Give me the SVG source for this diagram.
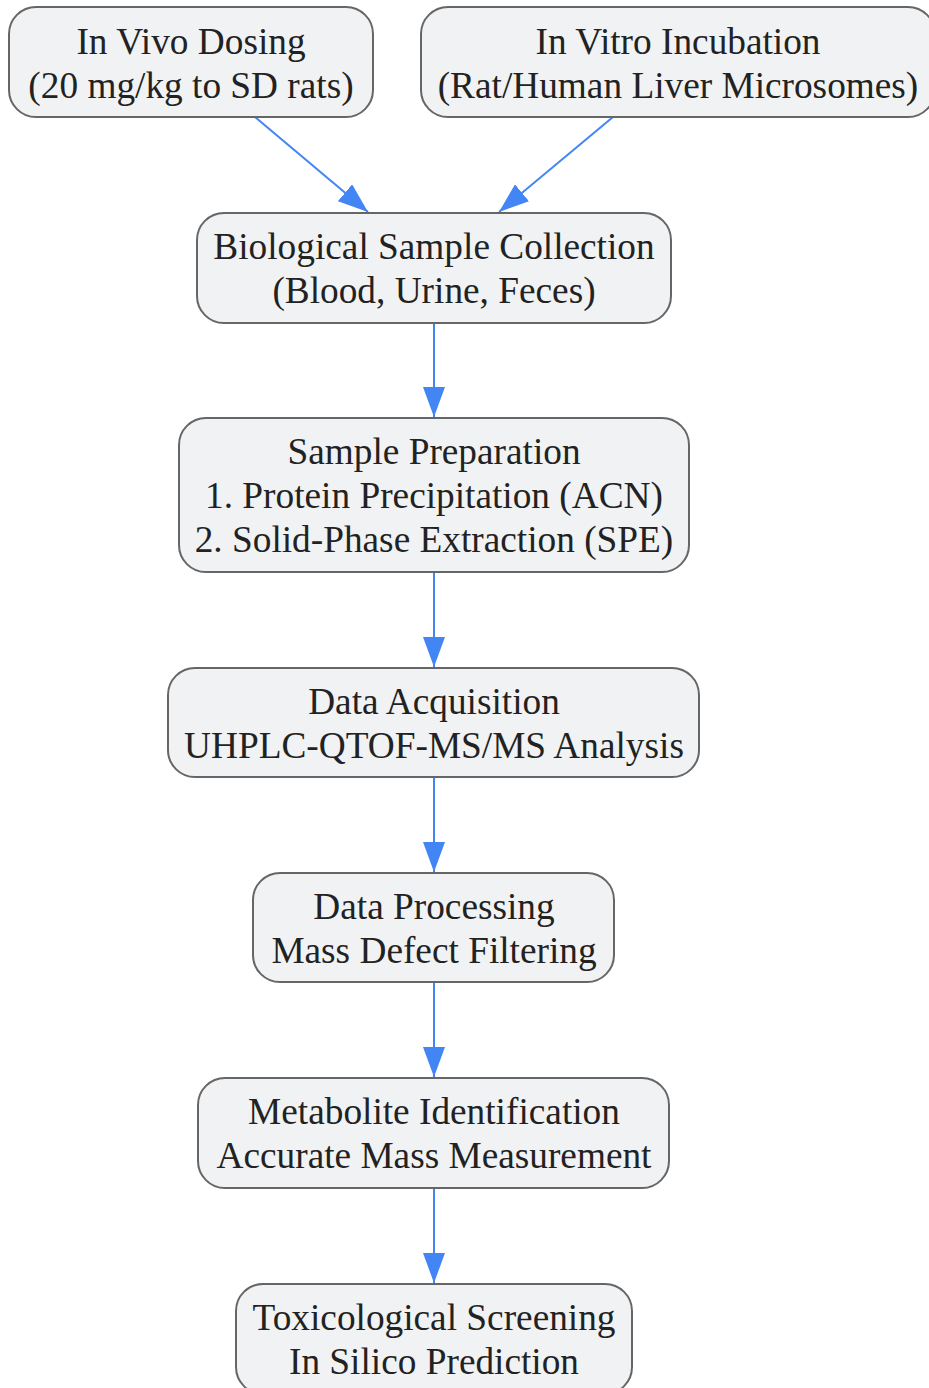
<svg xmlns="http://www.w3.org/2000/svg" width="929" height="1388" viewBox="0 0 929 1388">
<defs>
<style>
.node rect{fill:#f1f2f4;stroke:#666;stroke-width:2}
.node text{font-family:"Liberation Serif",serif;font-size:37.3px;fill:#222;text-anchor:middle}
.edge{stroke:#4285f4;stroke-width:2;fill:none;marker-end:url(#ah)}
</style>
<marker id="ah" markerUnits="userSpaceOnUse" markerWidth="30" markerHeight="22" refX="30" refY="11" orient="auto" viewBox="0 0 30 22">
<path d="M0,0 L30,11 L0,22 z" fill="#4285f4"/>
</marker>
</defs>
<rect width="929" height="1388" fill="#fff"/>
<g id="edges">
<line class="edge" x1="255" y1="117" x2="368" y2="212"/>
<line class="edge" x1="613" y1="117" x2="499" y2="212"/>
<line class="edge" x1="434" y1="323" x2="434" y2="417"/>
<line class="edge" x1="434" y1="572" x2="434" y2="667"/>
<line class="edge" x1="434" y1="777" x2="434" y2="872"/>
<line class="edge" x1="434" y1="982" x2="434" y2="1077"/>
<line class="edge" x1="434" y1="1188" x2="434" y2="1283"/>
</g>
<g id="n1" class="node"><rect x="9" y="7" width="364" height="110" rx="27"/><text x="191" y="54">In Vivo Dosing</text><text x="191" y="98">(20 mg/kg to SD rats)</text></g>
<g id="n2" class="node"><rect x="421" y="7" width="514" height="110" rx="27"/><text x="678" y="54">In Vitro Incubation</text><text x="678" y="98">(Rat/Human Liver Microsomes)</text></g>
<g id="n3" class="node"><rect x="197" y="213" width="474" height="110" rx="27"/><text x="434" y="259">Biological Sample Collection</text><text x="434" y="303">(Blood, Urine, Feces)</text></g>
<g id="n4" class="node"><rect x="179" y="418" width="510" height="154" rx="27"/><text x="434" y="464">Sample Preparation</text><text x="434" y="508">1. Protein Precipitation (ACN)</text><text x="434" y="552">2. Solid-Phase Extraction (SPE)</text></g>
<g id="n5" class="node"><rect x="168" y="668" width="531" height="109" rx="27"/><text x="434" y="714">Data Acquisition</text><text x="434" y="758">UHPLC-QTOF-MS/MS Analysis</text></g>
<g id="n6" class="node"><rect x="253" y="873" width="361" height="109" rx="27"/><text x="434" y="919">Data Processing</text><text x="434" y="963">Mass Defect Filtering</text></g>
<g id="n7" class="node"><rect x="198" y="1078" width="471" height="110" rx="27"/><text x="434" y="1124">Metabolite Identification</text><text x="434" y="1168">Accurate Mass Measurement</text></g>
<g id="n8" class="node"><rect x="236" y="1284" width="396" height="110" rx="27"/><text x="434" y="1330">Toxicological Screening</text><text x="434" y="1374">In Silico Prediction</text></g>
</svg>
